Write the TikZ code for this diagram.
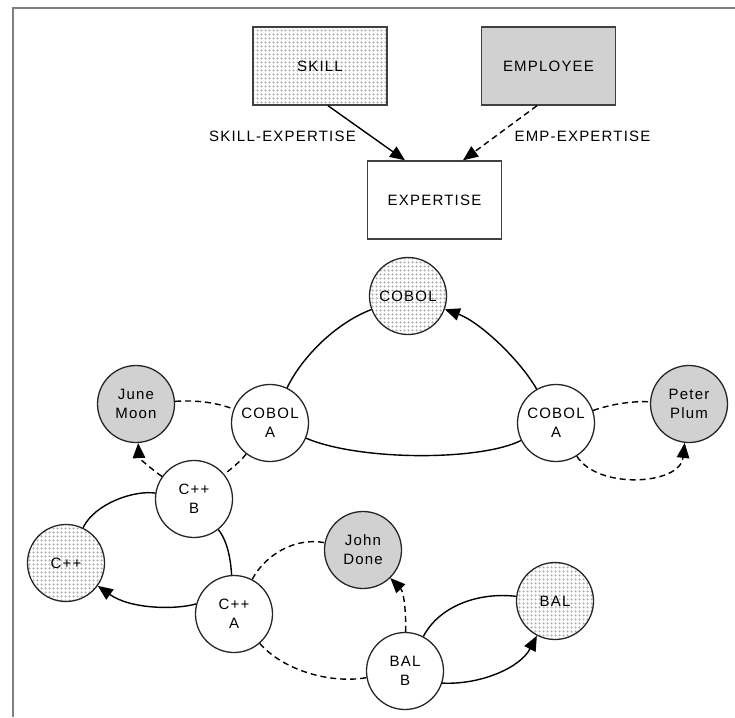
\documentclass[tikz,border=0pt]{standalone}
\usepackage{fontspec}
\setmainfont{Liberation Sans}[LetterSpace=8]
\usetikzlibrary{arrows.meta,patterns}

% grid of small hollow rings used for the skill entities
\pgfdeclarepatternformonly{ringgrid}{\pgfqpoint{0pt}{0pt}}{\pgfqpoint{3.5pt}{3.5pt}}{\pgfqpoint{3.5pt}{3.5pt}}{%
  \pgfsetlinewidth{0.4pt}%
  \pgfpathcircle{\pgfqpoint{1.75pt}{1.75pt}}{0.9pt}%
  \pgfusepath{stroke}}

\newcommand\diagfont{\fontsize{15}{19}\selectfont}

\begin{document}
\begin{tikzpicture}[x=1pt,y=-1pt,
  every node/.style={font=\diagfont},
  ent/.style={rectangle, draw=black!75, line width=1.4pt, minimum width=134pt, minimum height=78pt, inner sep=0pt},
  occ/.style={circle, draw=black!85, line width=1.3pt, minimum size=77pt, inner sep=0pt, align=center},
  grayfill/.style={fill=black!18},
  dotfill/.style={pattern=ringgrid, pattern color=black!42},
  link/.style={line width=1.4pt, draw=black},
  dlink/.style={link, dash pattern=on 6pt off 4pt},
  tip/.style={-{Triangle[length=15pt,width=12.5pt]}},
]
\useasboundingbox (0,0) rectangle (735,717);

% frame
\draw[line width=2pt, draw=black!50] (12.7,717) -- (12.7,8) -- (735,8);

% entity types
\node[ent, dotfill] (skill) at (320,66) {SKILL};
\node[ent, grayfill] (employee) at (548.5,66) {EMPLOYEE};
\node[ent] (expertise) at (434.5,200) {EXPERTISE};

\draw[link,tip] ([xshift=8pt]skill.south) -- ([xshift=-29.5pt]expertise.north);
\draw[dlink,tip] ([xshift=-11.5pt]employee.south) -- ([xshift=28.5pt]expertise.north);
\node (lskill) at (282.5,136.5) {SKILL-EXPERTISE};
\node (lemp) at (582.5,136.5) {EMP-EXPERTISE};

% occurrences
\node[occ, dotfill] (cobol) at (408,296) {COBOL};
\node[occ, grayfill] (june) at (136,404) {June\\Moon};
\node[occ] (cobolA1) at (270,423) {COBOL\\A};
\node[occ] (cobolA2) at (556,423) {COBOL\\A};
\node[occ, grayfill] (peter) at (689,404) {Peter\\Plum};
\node[occ] (cppB) at (194,499) {C++\\B};
\node[occ, dotfill] (cpp) at (66,563) {C++};
\node[occ] (cppA) at (234,614) {C++\\A};
\node[occ, grayfill] (john) at (363,550) {John\\Done};
\node[occ] (balB) at (405,671) {BAL\\B};
\node[occ, dotfill] (bal) at (555,601) {BAL};

% COBOL ring
\draw[link] (cobolA1) .. controls (303,355) and (338,322) .. (cobol);
\draw[link,tip] (cobolA2) .. controls (520,360) and (480,322) .. (cobol);
\draw[link] (cobolA1) .. controls (360,461) and (480,461) .. (cobolA2);
\draw[dlink] (june) .. controls (195,400) and (215,402) .. (cobolA1);
\draw[dlink] (cobolA2) .. controls (615,403) and (635,401) .. (peter);
\draw[dlink,tip] (cobolA2) .. controls (598,490) and (680,485) .. (peter);

% C++ ring
\draw[dlink] (cobolA1) .. controls (240,462) and (232,468) .. (cppB);
\draw[dlink,tip] (cppB) .. controls (150,468) and (139,458) .. (june);
\draw[link] (cppB) .. controls (135,490) and (95,503) .. (cpp);
\draw[link] (cppB) .. controls (229,543) and (231,565) .. (cppA);
\draw[link,tip] (cppA.165) .. controls (175,610) and (130,609) .. (cpp);
\draw[dlink] (cppA) .. controls (265,555) and (295,537) .. (john);
\draw[dlink] (cppA) .. controls (283,670) and (330,684) .. (balB);

% BAL ring
\draw[dlink,tip] (balB) .. controls (406,612) and (404,592) .. (john);
\draw[link] (balB) .. controls (440,605) and (480,592) .. (bal);
\draw[link,tip] (balB.-18) .. controls (480,685) and (520,668) .. (bal);
\end{tikzpicture}
\end{document}
